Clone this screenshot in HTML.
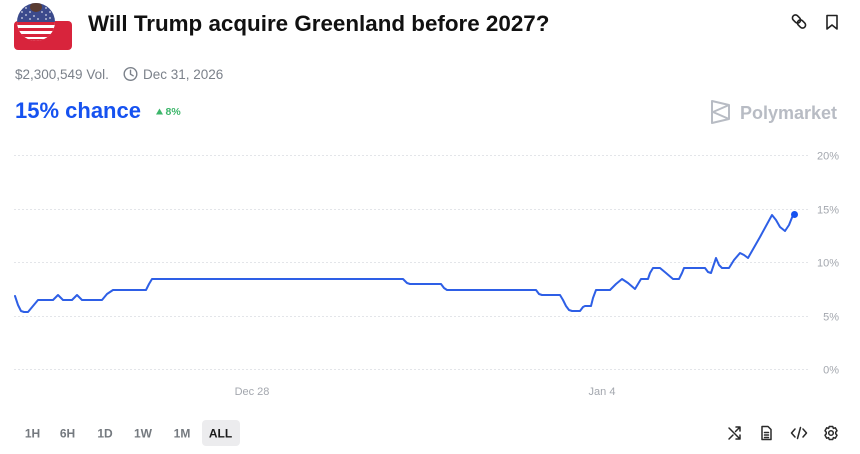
<!DOCTYPE html>
<html><head><meta charset="utf-8"><style>
html,body{margin:0;padding:0;background:#fff;width:860px;height:454px;overflow:hidden}
svg{display:block;font-family:"Liberation Sans",Arial,sans-serif}
</style></head><body>
<svg width="860" height="454" viewBox="0 0 860 454" xmlns="http://www.w3.org/2000/svg">
<defs>
<clipPath id="cc"><circle cx="36" cy="22" r="19"/></clipPath>
</defs>
<!-- flag icon -->
<rect x="14" y="21" width="58" height="29" rx="4" fill="#d8243c"/>
<g clip-path="url(#cc)">
<rect x="17" y="3" width="38" height="38" fill="#fff"/>
<rect x="17" y="3" width="38" height="19" fill="#3b4a8c"/>
<rect x="17" y="22" width="38" height="3" fill="#d8243c"/>
<rect x="17" y="28" width="38" height="3" fill="#d8243c"/>
<rect x="17" y="34" width="38" height="3" fill="#d8243c"/>
<rect x="17" y="39" width="38" height="3" fill="#d8243c"/>
<g fill="#fff" opacity="0.8">
<circle cx="22" cy="12" r="0.9"/><circle cx="26" cy="15" r="0.9"/><circle cx="30" cy="12" r="0.9"/><circle cx="34" cy="16" r="0.9"/><circle cx="42" cy="12" r="0.9"/><circle cx="46" cy="15" r="0.9"/><circle cx="50" cy="12" r="0.9"/><circle cx="22" cy="18" r="0.9"/><circle cx="30" cy="19" r="0.9"/><circle cx="38" cy="19" r="0.9"/><circle cx="46" cy="19" r="0.9"/><circle cx="50" cy="18" r="0.9"/><circle cx="26" cy="8" r="0.9"/><circle cx="46" cy="8" r="0.9"/>
</g>
<ellipse cx="36" cy="7" rx="6" ry="5" fill="#5a3b30"/>
</g>
<!-- title -->
<text x="88" y="31" font-size="22.4" font-weight="bold" fill="#111">Will Trump acquire Greenland before 2027?</text>
<!-- top-right icons -->
<g fill="none" stroke="#222" stroke-width="1.6" stroke-linecap="round" stroke-linejoin="round">
<rect x="792" y="16" width="9" height="6" rx="3" transform="rotate(45 796.5 19)"/>
<rect x="797" y="21" width="9" height="6" rx="3" transform="rotate(45 801.5 24)"/>
<path d="M827 15.5 h10 v13.5 l-5 -4 l-5 4 z"/>
</g>
<!-- vol line -->
<text x="15" y="79" font-size="13.5" fill="#7b818a">$2,300,549 Vol.</text>
<circle cx="130.5" cy="74" r="6.3" fill="none" stroke="#7b818a" stroke-width="1.4"/>
<path d="M130.5 70.3 V74.2 L133.2 75.8" fill="none" stroke="#7b818a" stroke-width="1.4" stroke-linecap="round"/>
<text x="143" y="79" font-size="13.5" fill="#7b818a">Dec 31, 2026</text>
<!-- chance -->
<text x="15" y="118" font-size="22" font-weight="bold" fill="#1652f0">15% chance</text>
<path d="M156 114.5 L159.5 108.5 L163 114.5 Z" fill="#3cb66a"/>
<text x="165.5" y="115" font-size="10.5" font-weight="bold" fill="#3cb66a">8%</text>
<!-- polymarket logo -->
<g fill="none" stroke="#b8bcc4" stroke-width="2" stroke-linejoin="round">
<path d="M712 101 L729 105 L729 119 L712 123 Z"/>
<path d="M729 105 L713 112 L729 119"/>
</g>
<text x="740" y="119" font-size="18" font-weight="bold" fill="#b8bcc4">Polymarket</text>
<!-- grid -->
<g stroke="#e3e5e9" stroke-width="1" stroke-dasharray="2 2">
<line x1="14" y1="155.5" x2="810" y2="155.5"/>
<line x1="14" y1="209.5" x2="810" y2="209.5"/>
<line x1="14" y1="262.5" x2="810" y2="262.5"/>
<line x1="14" y1="316.5" x2="810" y2="316.5"/>
<line x1="14" y1="369.5" x2="810" y2="369.5"/>
</g>
<g font-size="11" fill="#a3a7ae" text-anchor="end">
<text x="839" y="159.5">20%</text>
<text x="839" y="213.5">15%</text>
<text x="839" y="266.5">10%</text>
<text x="839" y="320.5">5%</text>
<text x="839" y="373.5">0%</text>
</g>
<g font-size="11" fill="#a3a7ae" text-anchor="middle">
<text x="252" y="395">Dec 28</text>
<text x="602" y="395">Jan 4</text>
</g>
<!-- series -->
<polyline fill="none" stroke="#2e5fe6" stroke-width="2" stroke-linejoin="round" stroke-linecap="round"
points="15,296 18,305 21,311 24,312 28,312 33,306 38,300 53,300 56,297 58,295 60,297 63,300 72,300 75,297 77,295 79,297 82,300 102,300 107,294 113,290 146,290 149,284 152,279 403,279 407,283 410,284 441,284 444,288 447,290 536,290 539,294 542,295 560,295 563,300 566,306 569,310 572,311 580,311 583,307 585,306 591,306 593,298 596,290 610,290 616,284 622,279 628,283 635,289 638,284 641,279 648,279 650,273 653,268 660,268 666,273 673,279 679,279 682,273 684,268 705,268 708,272 711,273 714,264 716,258 719,265 722,268 729,268 734,260 740,253 744,255 748,258 760,237 772,215 776,220 780,227 785,231 789,225 793,215"/>
<circle cx="794.5" cy="214.5" r="3.5" fill="#1652f0"/>
<!-- range buttons -->
<rect x="202" y="420" width="38" height="26" rx="4" fill="#ececee"/>
<g font-size="12" font-weight="bold" fill="#74797f" text-anchor="middle">
<text x="32.5" y="437.5">1H</text>
<text x="67.5" y="437.5">6H</text>
<text x="105" y="437.5">1D</text>
<text x="143" y="437.5">1W</text>
<text x="182" y="437.5">1M</text>
<text x="220.5" y="437.5" fill="#1a1a1a">ALL</text>
</g>
<!-- bottom-right icons -->
<g fill="none" stroke="#2a2a2a" stroke-width="1.5" stroke-linecap="round" stroke-linejoin="round">
<path d="M729 428 L740 439 M736 439 H740 V435 M729 439 L733 435 M735.5 431.5 L740 427 M736 427 H740 V431"/>
<path d="M762 426.5 h6 l3 3 v10 h-9 z M764.5 432.5 h4 M764.5 435 h4 M764.5 437.5 h4"/>
<path d="M795 429 L791.5 433 L795 437 M803 429 L806.5 433 L803 437 M800.5 427.5 L797.5 438.5"/>
<circle cx="831" cy="433" r="2.3"/>
<path d="M829.3 426.5 h3.4 l0.7 1.9 l1.9 -0.6 l1.7 2.9 l-1.3 1.5 l0 1.6 l1.3 1.5 l-1.7 2.9 l-1.9 -0.6 l-0.7 1.9 h-3.4 l-0.7 -1.9 l-1.9 0.6 l-1.7 -2.9 l1.3 -1.5 v-1.6 l-1.3 -1.5 l1.7 -2.9 l1.9 0.6 z"/>
</g>
</svg>
</body></html>
